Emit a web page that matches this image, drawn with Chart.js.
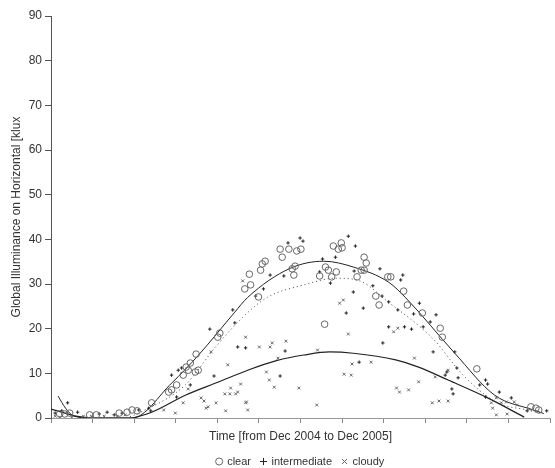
<!DOCTYPE html>
<html>
<head>
<meta charset="utf-8">
<script src="https://cdn.jsdelivr.net/npm/chart.js@4.4.1/dist/chart.umd.min.js"></script>
<style>
  body { margin: 0; background: #fff; }
  #wrap { width: 555px; height: 468px; }
</style>
</head>
<body>
<div id="wrap"><canvas id="myChart" width="555" height="468"></canvas></div>
<script>
// x = months since start of Dec 2004, y = klux
const clearPts = [
  [0.21,0.9],[0.33,0.9],[0.45,1.1],[0.93,0.7],[1.09,0.7],[1.64,1.1],[1.83,1.3],[1.95,1.8],[2.07,1.6],
  [2.42,3.4],[2.83,5.8],[2.9,6.3],[3.02,7.4],[3.18,9.6],[3.25,11.4],[3.3,10.7],[3.47,10.3],[3.54,10.7],
  [3.35,12.3],[3.49,14.3],[4.01,18.1],[4.06,19.0],[4.66,28.9],[4.8,29.8],[4.77,32.2],[4.99,27.1],
  [5.04,33.1],[5.08,34.5],[5.15,35.1],[5.51,37.8],[5.56,36.0],[5.72,37.8],[5.91,37.4],[6.01,37.8],
  [5.8,33.4],[5.84,32.0],[5.87,34.0],[6.46,31.8],[6.6,33.8],[6.67,33.1],[6.75,31.6],[6.86,32.7],
  [6.79,38.5],[6.91,37.8],[7.0,38.1],[6.98,39.2],[6.58,21.0],[7.36,31.6],[7.46,33.1],[7.53,33.1],
  [7.53,36.0],[7.58,34.7],[7.81,27.3],[7.89,25.3],[8.1,31.6],[8.17,31.6],[8.48,28.4],[8.57,25.3],
  [8.93,23.5],[9.36,20.1],[9.41,18.1],[10.24,11.0],[11.54,2.5],[11.66,2.2],[11.73,1.8]
];
const intermediatePts = [
  [0.1,1.1],[0.26,1.6],[0.4,3.4],[0.64,1.3],[1.16,0.9],[1.35,1.3],[1.52,0.7],[1.71,1.1],[2.11,1.8],
  [2.35,2.2],[2.4,1.6],[3.02,4.7],[2.9,9.6],[3.06,10.7],[3.14,11.2],[3.35,7.4],[3.92,9.4],[3.82,19.9],
  [4.37,24.2],[4.42,21.3],[4.68,15.7],[4.49,15.9],[4.92,27.3],[5.11,28.9],[5.27,32.0],[5.6,31.8],
  [5.7,39.2],[5.99,40.3],[6.06,39.6],[5.63,15.0],[5.51,9.4],[6.46,32.7],[6.53,35.6],[6.72,30.2],
  [6.84,36.0],[7.15,40.7],[7.32,38.5],[7.27,28.2],[7.29,32.9],[7.1,23.5],[7.51,24.6],[7.41,12.5],
  [7.74,29.6],[7.91,33.4],[7.96,27.3],[8.41,30.9],[8.46,32.0],[8.12,26.0],[8.34,24.2],[8.86,25.7],
  [8.72,23.3],[9.26,23.1],[9.12,21.5],[8.12,20.4],[8.5,20.4],[8.67,19.9],[8.95,20.4],[7.98,16.8],
  [9.19,14.8],[9.71,14.8],[9.76,11.2],[9.48,9.6],[9.52,10.3],[9.79,9.0],[9.64,6.5],[9.67,5.4],
  [10.45,8.5],[10.5,7.6],[10.31,7.4],[10.78,5.8],[10.45,4.7],[11.07,4.5],[11.45,1.6],[11.92,1.6]
];
const cloudyPts = [
  [0.1,0.4],[0.21,0.2],[0.5,0.2],[0.78,0.4],[0.97,0.4],[1.28,0.4],[1.59,0.4],[1.78,0.7],
  [2.71,1.8],[2.99,1.1],[3.18,3.4],[3.3,6.5],[3.61,4.5],[3.68,3.8],[3.73,2.2],[3.78,2.5],[3.97,3.4],
  [3.85,14.8],[4.2,1.6],[4.18,5.4],[4.3,5.4],[4.25,11.9],[4.32,6.7],[4.44,5.4],[4.49,5.8],[4.56,7.6],
  [4.61,30.7],[4.68,18.1],[4.68,3.4],[4.73,1.8],[4.7,3.6],[5.01,15.9],[5.18,10.3],[5.25,8.5],
  [5.27,15.9],[5.32,16.8],[5.37,6.9],[5.46,13.4],[5.65,17.2],[5.96,6.7],[6.39,2.9],[6.41,15.2],
  [6.94,25.7],[7.03,26.4],[7.05,9.8],[7.22,9.6],[7.24,12.1],[7.15,18.8],[7.7,12.5],[8.24,19.3],
  [8.34,20.1],[8.31,6.7],[8.38,5.8],[8.6,6.3],[8.74,13.4],[8.84,8.1],[9.17,3.4],[9.24,9.2],
  [9.33,3.8],[9.55,3.8],[9.55,10.7],[10.59,3.4],[10.71,4.5],[10.83,3.4],[10.95,3.6],[11.14,3.6],
  [11.21,2.9],[10.62,2.2],[10.71,0.7],[10.97,0.9]
];
// fitted curves
const clearFit = [
  [0.17,4.9],[0.35,2.2],[0.55,0.4],[1.0,0],[1.5,0],[1.95,0],[2.9,7.8],[3.54,14],[4.42,23.7],
  [4.73,27],[5.75,33.5],[6.56,35.1],[7.27,33.8],[8.12,30.4],[8.53,26.9],[9.71,14.5],[10.67,5.1],
  [11.6,1.8],[11.85,1.0]
];
const intermediateFit = [
  [1.9,0.3],[2.11,1.1],[3.23,7.4],[3.94,15.7],[4.66,23],[5.2,27],[6.08,29.8],[6.86,31.3],[7.5,30.4],
  [8.05,26.4],[9.17,17.9],[9.95,9.2],[10.74,3.4],[11.45,1.8],[11.8,1.0]
];
const cloudyFit = [
  [0,2.0],[0.3,1.2],[0.6,0.4],[1.0,0],[1.88,0],[2.42,1.3],[3.23,5.1],[4.01,8],[4.73,10.7],
  [5.44,12.9],[6.08,14.1],[6.7,14.8],[7.27,14.5],[8.29,13],[8.84,11.4],[9.55,8.5],[10.5,4.5],[11.38,0.2]
];
const yTicks = [0, 10, 20, 30, 40, 50, 60, 70, 80, 90];
const legendNames = ['clear', 'intermediate', 'cloudy'];

const toXY = arr => arr.map(p => ({ x: p[0], y: p[1] }));
const font = 'Liberation Sans, Arial, sans-serif';

const ctx = document.getElementById('myChart').getContext('2d');
new Chart(ctx, {
  type: 'scatter',
  data: {
    datasets: [
      { label: legendNames[0], data: toXY(clearPts), pointStyle: 'circle', pointRadius: 3.3,
        borderColor: '#666', backgroundColor: 'rgba(0,0,0,0)', borderWidth: 1, order: 1 },
      { label: legendNames[1], data: toXY(intermediatePts), pointStyle: 'cross', pointRadius: 1.7,
        borderColor: '#222', backgroundColor: '#222', borderWidth: 1, order: 1 },
      { label: legendNames[2], data: toXY(cloudyPts), pointStyle: 'crossRot', pointRadius: 2,
        borderColor: '#666', backgroundColor: '#666', borderWidth: 1, order: 1 },
      { type: 'line', label: 'fit-clear', data: toXY(clearFit), borderColor: '#222', borderWidth: 1,
        pointRadius: 0, cubicInterpolationMode: 'monotone', fill: false, order: 2 },
      { type: 'line', label: 'fit-intermediate', data: toXY(intermediateFit), borderColor: '#444',
        borderWidth: 1, borderDash: [1, 3], pointRadius: 0, cubicInterpolationMode: 'monotone', fill: false, order: 2 },
      { type: 'line', label: 'fit-cloudy', data: toXY(cloudyFit), borderColor: '#222', borderWidth: 1.2,
        pointRadius: 0, cubicInterpolationMode: 'monotone', fill: false, order: 2 }
    ]
  },
  options: {
    responsive: false,
    animation: false,
    layout: { padding: { top: 16, left: 0, right: 0, bottom: 0 } },
    plugins: {
      tooltip: { enabled: false },
      legend: {
        position: 'bottom',
        fullSize: false,
        maxHeight: 22,
        labels: {
          filter: item => legendNames.includes(item.text),
          usePointStyle: true,
          boxWidth: 5, boxHeight: 5,
          padding: 10,
          color: '#333',
          font: { family: font, size: 11 }
        }
      }
    },
    scales: {
      x: {
        type: 'linear', min: 0, max: 12,
        ticks: { stepSize: 1, display: false },
        grid: { drawOnChartArea: false, tickLength: 5, color: '#888' },
        border: { color: '#999', width: 1 },
        title: { display: true, text: 'Time [from Dec 2004 to Dec 2005]', color: '#333',
          font: { family: font, size: 12 }, padding: { top: 2, bottom: 2 } },
        afterFit: s => { s.height = 28; }
      },
      y: {
        min: 0, max: 90,
        afterBuildTicks: s => { s.ticks = yTicks.map(v => ({ value: v })); },
        ticks: { color: '#333', padding: 3, font: { family: font, size: 12 } },
        grid: { drawOnChartArea: false, tickLength: 6, color: '#555' },
        border: { color: '#555', width: 1 },
        title: { display: true, text: 'Global Illuminance on Horizontal [klux', color: '#333',
          font: { family: font, size: 12 }, padding: { top: 9, bottom: 0 } },
        afterFit: s => { s.width = 51; }
      }
    }
  }
});
</script>
</body>
</html>
